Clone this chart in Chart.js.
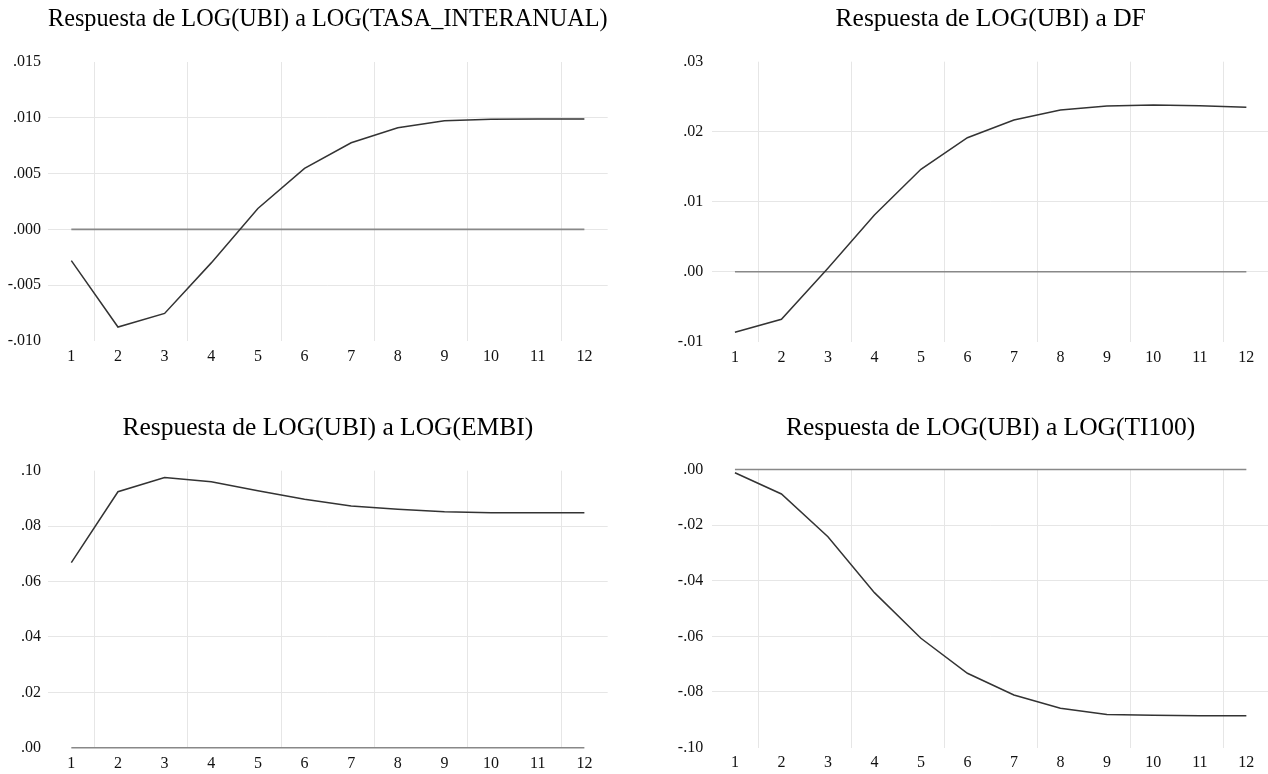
<!DOCTYPE html>
<html><head><meta charset="utf-8">
<script src="https://cdn.jsdelivr.net/npm/chart.js@4.4.1/dist/chart.umd.min.js"></script>
<style>
html,body{margin:0;padding:0;background:#fff;overflow:hidden;width:1268px;height:774px;position:relative;}
canvas{position:absolute;}
</style></head><body>
<canvas id="c1"></canvas><canvas id="c2"></canvas><canvas id="c3"></canvas><canvas id="c4"></canvas>
<script>
// ---- data ----
const periods = [1, 2, 3, 4, 5, 6, 7, 8, 9, 10, 11, 12];
const zeroLine = [0, 0, 0, 0, 0, 0, 0, 0, 0, 0, 0, 0];

const respTasa  = [-0.0028, -0.00875, -0.00753, -0.0030, 0.00188, 0.00547, 0.00776, 0.0091, 0.00973, 0.00986, 0.0099, 0.0099];
const respDF    = [-0.00866, -0.0068, 0.0005, 0.0081, 0.01463, 0.01914, 0.02167, 0.0231, 0.02367, 0.02381, 0.0237, 0.02349];
const respEMBI  = [0.0668, 0.0924, 0.0975, 0.0960, 0.0928, 0.0897, 0.0873, 0.0861, 0.0852, 0.0848, 0.0848, 0.0848];
const respTI100 = [-0.00115, -0.0088, -0.0242, -0.0443, -0.0607, -0.0733, -0.0811, -0.0859, -0.0881, -0.0884, -0.0886, -0.0886];

const yTicksTasa  = [-0.010, -0.005, 0, 0.005, 0.010, 0.015];
const yLabelsTasa = ['-.010', '-.005', '.000', '.005', '.010', '.015'];
const yTicksDF    = [-0.01, 0, 0.01, 0.02, 0.03];
const yLabelsDF   = ['-.01', '.00', '.01', '.02', '.03'];
const yTicksEMBI  = [0, 0.02, 0.04, 0.06, 0.08, 0.10];
const yLabelsEMBI = ['.00', '.02', '.04', '.06', '.08', '.10'];
const yTicksTI    = [-0.10, -0.08, -0.06, -0.04, -0.02, 0];
const yLabelsTI   = ['-.10', '-.08', '-.06', '-.04', '-.02', '.00'];

const titles = [
  'Respuesta de LOG(UBI) a LOG(TASA_INTERANUAL)',
  'Respuesta de LOG(UBI) a DF',
  'Respuesta de LOG(UBI) a LOG(EMBI)',
  'Respuesta de LOG(UBI) a LOG(TI100)'
];

// ---- layout ----
const panels = [
  {id:'c1', title:titles[0], data:respTasa, yt:yTicksTasa, yl:yLabelsTasa,
   left:0, top:0, w:634, h:387, yW:48, xH:46, padR:26.3, tPT:4.4, tPB:27.0, yPad:7},
  {id:'c2', title:titles[1], data:respDF, yt:yTicksDF, yl:yLabelsDF,
   left:634, top:0, w:640, h:387, yW:77.7, xH:45.3, padR:4.4, tPT:4.4, tPB:26.7, yPad:8.5},
  {id:'c3', title:titles[2], data:respEMBI, yt:yTicksEMBI, yl:yLabelsEMBI,
   left:0, top:387, w:634, h:387, yW:48, xH:26.3, padR:26.3, tPT:25.6, tPB:27.5, yPad:7},
  {id:'c4', title:titles[3], data:respTI100, yt:yTicksTI, yl:yLabelsTI,
   left:634, top:387, w:640, h:387, yW:77.7, xH:26.5, padR:4.4, tPT:25.6, tPB:26.3, yPad:8.5}
];

Chart.defaults.font.family = "'Liberation Serif', 'Times New Roman', serif";
Chart.defaults.color = '#111';

const GRID = '#e6e6e6';

panels.forEach(p => {
  const cv = document.getElementById(p.id);
  cv.width = p.w; cv.height = p.h;
  cv.style.left = p.left + 'px'; cv.style.top = p.top + 'px';
  cv.style.width = p.w + 'px'; cv.style.height = p.h + 'px';
  const yMin = p.yt[0], yMax = p.yt[p.yt.length - 1];
  new Chart(cv, {
    type: 'line',
    data: {
      datasets: [
        {data: periods.map((x, i) => ({x, y: p.data[i]})), borderColor: '#333333', borderWidth: 1.5,
         pointRadius: 0, tension: 0, fill: false, clip: false, order: 0},
        {data: periods.map((x, i) => ({x, y: zeroLine[i]})), borderColor: '#888888', borderWidth: 1.6,
         pointRadius: 0, tension: 0, fill: false, clip: false, order: 1}
      ]
    },
    options: {
      responsive: false, animation: false, devicePixelRatio: 1,
      layout: {padding: {left: 0, right: p.padR, top: 0, bottom: 0}},
      plugins: {
        legend: {display: false}, tooltip: {enabled: false},
        title: {display: true, text: p.title, fullSize: false, color: '#000',
                font: {size: 25.5, weight: 'normal', lineHeight: 1.2},
                padding: {top: p.tPT, bottom: p.tPB}}
      },
      scales: {
        x: {
          type: 'linear', min: 0.5, max: 12.5,
          afterBuildTicks: s => {
            const t = [];
            periods.forEach(c => { t.push({value: c}); if (c % 2 === 1) t.push({value: c + 0.5}); });
            s.ticks = t;
          },
          afterFit: s => { s.height = p.xH; },
          ticks: {autoSkip: false, maxRotation: 0, padding: 6, font: {size: 16},
                  callback: v => Number.isInteger(v) ? String(v) : ''},
          grid: {drawTicks: false, tickLength: 0, lineWidth: 1,
                 color: c => (c.tick && !Number.isInteger(c.tick.value)) ? GRID : 'rgba(0,0,0,0)'},
          border: {display: false}
        },
        y: {
          type: 'linear', min: yMin, max: yMax,
          afterBuildTicks: s => { s.ticks = p.yt.map(v => ({value: v})); },
          afterFit: s => { s.width = p.yW; },
          ticks: {autoSkip: false, padding: p.yPad, font: {size: 16},
                  callback: (v, i) => p.yl[i]},
          grid: {drawTicks: false, tickLength: 0, lineWidth: 1,
                 color: c => (c.tick && (c.tick.value === yMin || c.tick.value === yMax)) ? 'rgba(0,0,0,0)' : GRID},
          border: {display: false}
        }
      }
    }
  });
});
</script>
</body></html>
